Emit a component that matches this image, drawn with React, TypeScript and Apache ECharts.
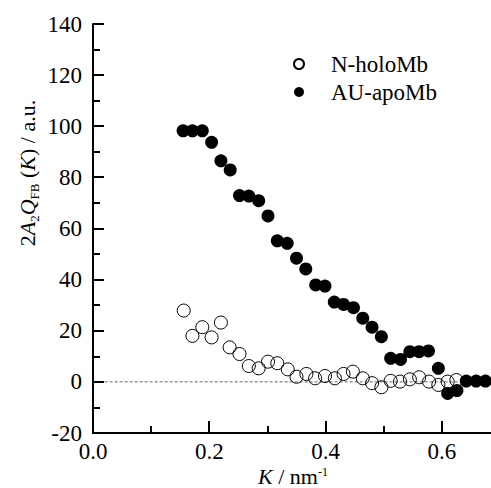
import React, { useEffect, useRef } from 'react';
import * as echarts from 'echarts';

// K (nm^-1) and values for N-holoMb (open circles)
const kHolo = [0.156, 0.171, 0.188, 0.204, 0.220, 0.235, 0.252, 0.268, 0.285, 0.301, 0.317, 0.335, 0.350, 0.367, 0.382, 0.399, 0.416, 0.431, 0.447, 0.464, 0.480, 0.496, 0.512, 0.528, 0.545, 0.561, 0.578, 0.594, 0.610, 0.625];
const holo = [27.9, 18.0, 21.4, 17.4, 23.2, 13.5, 10.9, 6.2, 5.3, 7.9, 7.3, 4.9, 2.0, 3.1, 1.4, 2.3, 1.4, 3.1, 4.0, 1.4, -0.5, -2.1, 0.4, 0.1, 1.0, 1.8, 0.1, -1.2, 0.1, 0.7];

// K (nm^-1) and values for AU-apoMb (filled circles)
const kApo = [0.155, 0.171, 0.188, 0.204, 0.220, 0.236, 0.252, 0.268, 0.285, 0.301, 0.317, 0.334, 0.350, 0.366, 0.383, 0.399, 0.415, 0.431, 0.448, 0.464, 0.480, 0.496, 0.512, 0.529, 0.545, 0.561, 0.577, 0.594, 0.610, 0.626, 0.642, 0.659, 0.675];
const apo = [98.2, 98.2, 98.2, 93.7, 86.5, 82.9, 72.9, 72.7, 70.9, 64.9, 55.2, 54.2, 48.4, 44.2, 37.9, 37.5, 31.2, 30.3, 29.0, 24.9, 21.4, 17.7, 9.2, 8.8, 11.8, 11.8, 12.1, 5.3, -4.5, -3.4, 0.3, 0.3, 0.3];

// dotted zero reference line extent
const zeroLineK = [0.02, 0.63];

// tick positions
const xLabels = [0, 0.2, 0.4, 0.6];
const xMajorTicks = [0.2, 0.4, 0.6];
const xMinorTicks = [0.1, 0.3, 0.5];
const yMajorTicks = [0, 20, 40, 60, 80, 100, 120, 140];
const yMinorTicks = [-10, 10, 30, 50, 70, 90, 110, 130];

const FONT = "'Liberation Serif', 'Times New Roman', Times, serif";
const X_MIN = 0;
const X_MAX = 0.688;
const Y_MIN = -20;
const Y_MAX = 140;

const W = 491;
const H = 488;
const GRID = { left: 93, top: 24, right: -2, bottom: 55 };

export default function App() {
  const ref = useRef<HTMLDivElement>(null);
  useEffect(() => {
    if (!ref.current) return;
    const chart = echarts.init(ref.current, undefined, { renderer: 'svg' });
    const black = '#000';
    const tickAxisX = (values: number[], length: number) => ({
      type: 'value',
      min: X_MIN,
      max: X_MAX,
      position: 'bottom',
      axisLine: { show: false, onZero: false },
      axisTick: { show: true, inside: true, length, customValues: values, lineStyle: { color: black, width: 2 } },
      axisLabel: { show: false },
      splitLine: { show: false },
    });
    const tickAxisY = (values: number[], length: number) => ({
      type: 'value',
      min: Y_MIN,
      max: Y_MAX,
      position: 'left',
      axisLine: { show: false, onZero: false },
      axisTick: { show: true, inside: true, length, customValues: values, lineStyle: { color: black, width: 2 } },
      axisLabel: { show: false },
      splitLine: { show: false },
    });
    chart.setOption({
      animation: false,
      textStyle: { fontFamily: FONT, color: black },
      grid: { ...GRID, outerBoundsMode: 'none', containLabel: false },
      legend: {
        left: 288,
        top: 47,
        orient: 'vertical',
        itemWidth: 10,
        itemHeight: 10,
        itemGap: 4,
        data: ['N-holoMb', 'AU-apoMb'],
        textStyle: { fontFamily: FONT, color: black, fontSize: 23, lineHeight: 24, padding: [0, 0, 0, 22] },
      },
      xAxis: [
        {
          type: 'value',
          min: X_MIN,
          max: X_MAX,
          splitNumber: 4,
          name: '{i|K}{n| / nm}{s|-1}',
          nameLocation: 'middle',
          nameGap: 33,
          nameMoveOverlap: false,
          nameTextStyle: {
            rich: {
              i: { fontFamily: FONT, color: black, fontSize: 22, fontStyle: 'italic', lineHeight: 20 },
              n: { fontFamily: FONT, color: black, fontSize: 22, lineHeight: 20 },
              s: { fontFamily: FONT, color: black, fontSize: 12, lineHeight: 10, verticalAlign: 'top' },
            },
          },
          axisLine: { show: true, onZero: false, lineStyle: { color: black, width: 2 } },
          axisTick: { show: false },
          axisLabel: {
            show: true,
            fontFamily: FONT,
            color: black,
            fontSize: 23,
            margin: 7,
            customValues: xLabels,
            formatter: (v: number) => v.toFixed(1),
          },
          splitLine: { show: false },
        },
        tickAxisX(xMinorTicks, 7),
      ],
      yAxis: [
        {
          type: 'value',
          min: Y_MIN,
          max: Y_MAX,
          splitNumber: 8,
          axisLine: { show: true, lineStyle: { color: black, width: 2 } },
          axisTick: { show: false },
          axisLabel: { show: true, fontFamily: FONT, color: black, fontSize: 23, margin: 11 },
          splitLine: { show: false },
        },
        tickAxisY(yMinorTicks, 7),
      ],
      series: [
        {
          type: 'line',
          name: 'zero',
          data: zeroLineK.map((k) => [k, 0]),
          symbol: 'none',
          silent: true,
          lineStyle: { type: [3, 2], color: '#666', width: 1 },
          z: 1,
        },
        {
          type: 'scatter',
          name: 'N-holoMb',
          data: kHolo.map((k, i) => [k, holo[i]]),
          symbol: 'circle',
          symbolSize: 13,
          itemStyle: { color: 'rgba(0,0,0,0)', borderColor: black, borderWidth: 1, opacity: 1 },
          z: 2,
        },
        {
          type: 'scatter',
          name: 'AU-apoMb',
          data: kApo.map((k, i) => [k, apo[i]]),
          symbol: 'circle',
          symbolSize: 13,
          itemStyle: { color: black, opacity: 1 },
          z: 3,
        },
      ],
    });

    // pixel position of a data point through the chart's scales (with a linear fallback on the grid)
    const gw = W - GRID.left - GRID.right;
    const gh = H - GRID.top - GRID.bottom;
    const toPx = (x: number, y: number) => {
      let p: any = null;
      try {
        p = chart.convertToPixel({ xAxisIndex: 0, yAxisIndex: 0 }, [x, y]);
      } catch (e) {
        p = null;
      }
      if (!p || !isFinite(p[0]) || !isFinite(p[1])) {
        p = [
          GRID.left + ((x - X_MIN) / (X_MAX - X_MIN)) * gw,
          GRID.top + ((Y_MAX - y) / (Y_MAX - Y_MIN)) * gh,
        ];
      }
      return p as number[];
    };

    // major ticks drawn as thin filled rects
    const tickEls: any[] = [];
    xMajorTicks.forEach((v) => {
      const p = toPx(v, Y_MIN);
      tickEls.push({
        type: 'rect',
        silent: true,
        z: 100,
        shape: { x: Math.round(p[0]) - 1, y: p[1] - 12, width: 2, height: 12 },
        style: { fill: black },
      });
    });
    yMajorTicks.forEach((v) => {
      const p = toPx(X_MIN, v);
      tickEls.push({
        type: 'rect',
        silent: true,
        z: 100,
        shape: { x: p[0], y: Math.round(p[1]) - 1, width: 11, height: 2 },
        style: { fill: black },
      });
    });

    chart.setOption({
      graphic: [
        {
          type: 'text',
          x: 27,
          y: 173,
          rotation: Math.PI / 2,
          style: {
            text: '{n|2}{i|A}{s|2}{i|Q}{s|FB}{n| (}{i|K}{n|) / a.u.}',
            align: 'center',
            verticalAlign: 'middle',
            rich: {
              n: { fontFamily: FONT, fill: black, fontSize: 22, lineHeight: 28 },
              i: { fontFamily: FONT, fill: black, fontSize: 22, fontStyle: 'italic', lineHeight: 28 },
              s: { fontFamily: FONT, fill: black, fontSize: 13, lineHeight: 14, verticalAlign: 'bottom' },
            },
          },
        },
        ...tickEls,
      ],
    });
    return () => chart.dispose();
  }, []);
  return <div ref={ref} style={{ width: W, height: H, position: 'absolute', left: 0, top: 0 }} />;
}
